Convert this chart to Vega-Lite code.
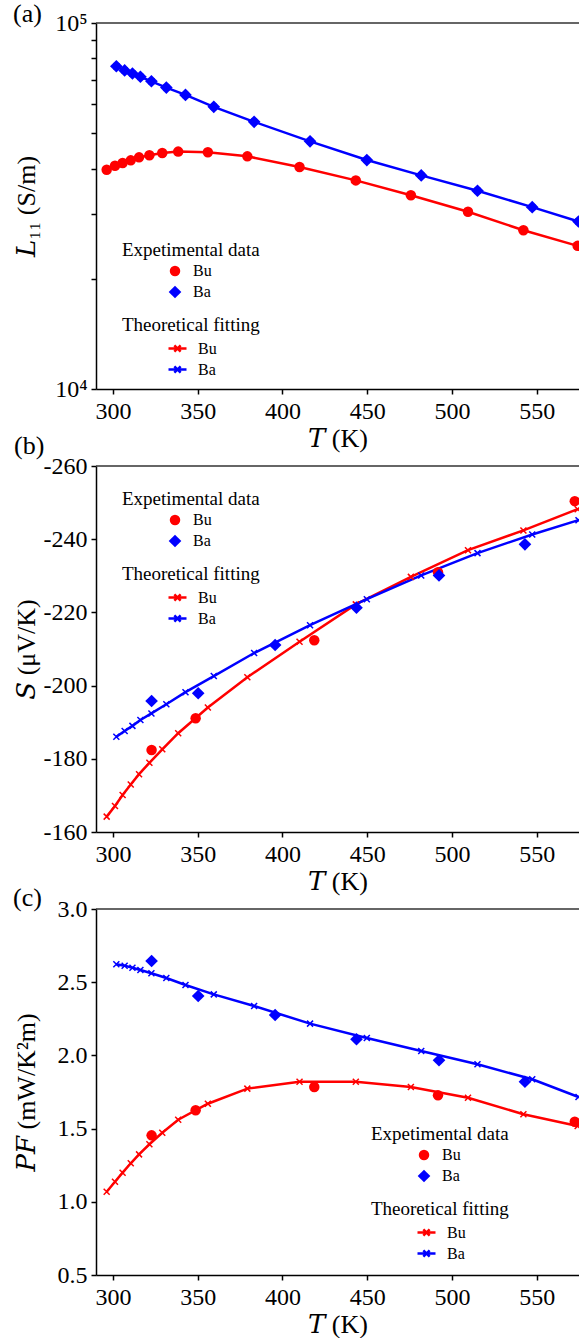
{
  "$schema": "https://vega.github.io/schema/vega-lite/v6.json",
  "background": "white",
  "padding": {"left": 13, "top": 1, "right": 0, "bottom": 0},
  "config": {
    "font": "Liberation Serif",
    "view": {"stroke": null},
    "axis": {
      "labelFont": "Liberation Serif", "titleFont": "'Liberation Serif', 'DejaVu Serif', serif",
      "labelFontSize": 24, "titleFontSize": 26, "titleFontWeight": "normal",
      "labelColor": "#000", "titleColor": "#000", "domainColor": "#000", "tickColor": "#000",
      "domainWidth": 1.5, "tickWidth": 1.5, "tickSize": 5, "grid": false,
      "labelFlush": false, "labelOverlap": false
    },
    "axisX": {"labelPadding": 5, "titleBaseline": "alphabetic", "titleY": 57.5},
    "axisY": {"labelPadding": 4, "titleAngle": 270, "titleBaseline": "bottom", "titleX": -57},
    "legend": {
      "orient": "none", "direction": "vertical", "padding": 0,
      "titleFont": "Liberation Serif", "labelFont": "Liberation Serif",
      "titleFontSize": 19, "labelFontSize": 16, "titleFontWeight": "normal",
      "titleColor": "#000", "labelColor": "#000",
      "symbolOffset": 45, "labelOffset": 10, "rowPadding": 2, "titlePadding": 3
    },
    "title": {"font": "Liberation Serif", "fontSize": 26, "fontWeight": "normal", "anchor": "start", "frame": "group", "baseline": "alphabetic", "color": "#000"}
  },
  "datasets": {
    "a_exp": [
      {"T": 296.3, "v": 39740, "s": "Bu"}, {"T": 301.2, "v": 40750, "s": "Bu"}, {"T": 305.7, "v": 41430, "s": "Bu"}, {"T": 310.5, "v": 42140, "s": "Bu"},
      {"T": 315.4, "v": 42950, "s": "Bu"}, {"T": 321.5, "v": 43500, "s": "Bu"}, {"T": 329.1, "v": 44140, "s": "Bu"}, {"T": 338.5, "v": 44530, "s": "Bu"},
      {"T": 356.0, "v": 44330, "s": "Bu"}, {"T": 379.3, "v": 43220, "s": "Bu"}, {"T": 410.1, "v": 40400, "s": "Bu"}, {"T": 443.3, "v": 37150, "s": "Bu"},
      {"T": 475.8, "v": 33850, "s": "Bu"}, {"T": 509.5, "v": 30490, "s": "Bu"}, {"T": 542.2, "v": 27150, "s": "Bu"}, {"T": 574.2, "v": 24610, "s": "Bu"},
      {"T": 302.0, "v": 76200, "s": "Ba"}, {"T": 306.9, "v": 74200, "s": "Ba"}, {"T": 311.5, "v": 72800, "s": "Ba"}, {"T": 316.2, "v": 71300, "s": "Ba"},
      {"T": 322.7, "v": 69300, "s": "Ba"}, {"T": 331.5, "v": 66600, "s": "Ba"}, {"T": 342.8, "v": 63600, "s": "Ba"}, {"T": 359.5, "v": 59000, "s": "Ba"},
      {"T": 383.3, "v": 53700, "s": "Ba"}, {"T": 416.3, "v": 47500, "s": "Ba"}, {"T": 449.8, "v": 42220, "s": "Ba"}, {"T": 481.9, "v": 38340, "s": "Ba"},
      {"T": 515.1, "v": 34800, "s": "Ba"}, {"T": 547.4, "v": 31390, "s": "Ba"}, {"T": 574.7, "v": 28680, "s": "Ba"}
    ],
    "a_fit": [
      {"T": 296.3, "v": 39740, "s": "Bu fit"}, {"T": 301.2, "v": 40750, "s": "Bu fit"}, {"T": 305.7, "v": 41430, "s": "Bu fit"}, {"T": 310.5, "v": 42140, "s": "Bu fit"},
      {"T": 315.4, "v": 42950, "s": "Bu fit"}, {"T": 321.5, "v": 43500, "s": "Bu fit"}, {"T": 329.1, "v": 44140, "s": "Bu fit"}, {"T": 338.5, "v": 44530, "s": "Bu fit"},
      {"T": 356.0, "v": 44330, "s": "Bu fit"}, {"T": 379.3, "v": 43220, "s": "Bu fit"}, {"T": 410.1, "v": 40400, "s": "Bu fit"}, {"T": 443.3, "v": 37150, "s": "Bu fit"},
      {"T": 475.8, "v": 33850, "s": "Bu fit"}, {"T": 509.5, "v": 30490, "s": "Bu fit"}, {"T": 542.2, "v": 27150, "s": "Bu fit"}, {"T": 574.2, "v": 24610, "s": "Bu fit"},
      {"T": 302.0, "v": 76200, "s": "Ba fit"}, {"T": 306.9, "v": 74200, "s": "Ba fit"}, {"T": 311.5, "v": 72800, "s": "Ba fit"}, {"T": 316.2, "v": 71300, "s": "Ba fit"},
      {"T": 322.7, "v": 69300, "s": "Ba fit"}, {"T": 331.5, "v": 66600, "s": "Ba fit"}, {"T": 342.8, "v": 63600, "s": "Ba fit"}, {"T": 359.5, "v": 59000, "s": "Ba fit"},
      {"T": 383.3, "v": 53700, "s": "Ba fit"}, {"T": 416.3, "v": 47500, "s": "Ba fit"}, {"T": 449.8, "v": 42220, "s": "Ba fit"}, {"T": 481.9, "v": 38340, "s": "Ba fit"},
      {"T": 515.1, "v": 34800, "s": "Ba fit"}, {"T": 547.4, "v": 31390, "s": "Ba fit"}, {"T": 574.7, "v": 28680, "s": "Ba fit"}
    ],
    "b_exp": [
      {"T": 322.8, "v": -182.4, "s": "Bu"}, {"T": 348.8, "v": -191.1, "s": "Bu"}, {"T": 418.8, "v": -212.4, "s": "Bu"}, {"T": 491.8, "v": -231.0, "s": "Bu"}, {"T": 572.5, "v": -250.4, "s": "Bu"},
      {"T": 322.8, "v": -195.8, "s": "Ba"}, {"T": 350.3, "v": -197.9, "s": "Ba"}, {"T": 395.7, "v": -211.1, "s": "Ba"}, {"T": 443.7, "v": -221.3, "s": "Ba"}, {"T": 492.4, "v": -230.1, "s": "Ba"}, {"T": 543.1, "v": -238.6, "s": "Ba"}
    ],
    "b_fit": [
      {"T": 296.3, "v": -164.2, "s": "Bu fit"}, {"T": 301.2, "v": -167.1, "s": "Bu fit"}, {"T": 305.7, "v": -170.1, "s": "Bu fit"}, {"T": 310.5, "v": -173.0, "s": "Bu fit"},
      {"T": 315.4, "v": -175.8, "s": "Bu fit"}, {"T": 321.5, "v": -178.9, "s": "Bu fit"}, {"T": 329.1, "v": -182.6, "s": "Bu fit"}, {"T": 338.5, "v": -187.0, "s": "Bu fit"},
      {"T": 356.0, "v": -194.0, "s": "Bu fit"}, {"T": 379.3, "v": -202.3, "s": "Bu fit"}, {"T": 410.1, "v": -212.0, "s": "Bu fit"}, {"T": 443.3, "v": -222.2, "s": "Bu fit"},
      {"T": 475.8, "v": -229.7, "s": "Bu fit"}, {"T": 509.5, "v": -237.0, "s": "Bu fit"}, {"T": 542.2, "v": -242.4, "s": "Bu fit"}, {"T": 574.2, "v": -248.2, "s": "Bu fit"},
      {"T": 302.0, "v": -186.0, "s": "Ba fit"}, {"T": 306.9, "v": -187.6, "s": "Ba fit"}, {"T": 311.5, "v": -189.0, "s": "Ba fit"}, {"T": 316.2, "v": -190.6, "s": "Ba fit"},
      {"T": 322.7, "v": -192.4, "s": "Ba fit"}, {"T": 331.5, "v": -194.9, "s": "Ba fit"}, {"T": 342.8, "v": -198.2, "s": "Ba fit"}, {"T": 359.5, "v": -202.6, "s": "Ba fit"},
      {"T": 383.3, "v": -208.9, "s": "Ba fit"}, {"T": 416.3, "v": -216.5, "s": "Ba fit"}, {"T": 449.8, "v": -223.6, "s": "Ba fit"}, {"T": 481.9, "v": -230.1, "s": "Ba fit"},
      {"T": 515.1, "v": -236.2, "s": "Ba fit"}, {"T": 547.4, "v": -241.3, "s": "Ba fit"}, {"T": 574.7, "v": -245.2, "s": "Ba fit"}
    ],
    "c_exp": [
      {"T": 322.8, "v": 1.454, "s": "Bu"}, {"T": 348.8, "v": 1.625, "s": "Bu"}, {"T": 418.8, "v": 1.784, "s": "Bu"}, {"T": 491.8, "v": 1.727, "s": "Bu"}, {"T": 572.5, "v": 1.547, "s": "Bu"},
      {"T": 322.8, "v": 2.645, "s": "Ba"}, {"T": 350.3, "v": 2.406, "s": "Ba"}, {"T": 395.7, "v": 2.276, "s": "Ba"}, {"T": 443.7, "v": 2.110, "s": "Ba"}, {"T": 492.4, "v": 1.967, "s": "Ba"}, {"T": 543.1, "v": 1.820, "s": "Ba"}
    ],
    "c_fit": [
      {"T": 296.3, "v": 1.069, "s": "Bu fit"}, {"T": 301.2, "v": 1.137, "s": "Bu fit"}, {"T": 305.7, "v": 1.199, "s": "Bu fit"}, {"T": 310.5, "v": 1.263, "s": "Bu fit"},
      {"T": 315.4, "v": 1.324, "s": "Bu fit"}, {"T": 321.5, "v": 1.393, "s": "Bu fit"}, {"T": 329.1, "v": 1.472, "s": "Bu fit"}, {"T": 338.5, "v": 1.561, "s": "Bu fit"},
      {"T": 356.0, "v": 1.670, "s": "Bu fit"}, {"T": 379.3, "v": 1.773, "s": "Bu fit"}, {"T": 410.1, "v": 1.820, "s": "Bu fit"}, {"T": 443.3, "v": 1.820, "s": "Bu fit"},
      {"T": 475.8, "v": 1.784, "s": "Bu fit"}, {"T": 509.5, "v": 1.711, "s": "Bu fit"}, {"T": 542.2, "v": 1.598, "s": "Bu fit"}, {"T": 574.2, "v": 1.518, "s": "Bu fit"},
      {"T": 302.0, "v": 2.622, "s": "Ba fit"}, {"T": 306.9, "v": 2.613, "s": "Ba fit"}, {"T": 311.5, "v": 2.599, "s": "Ba fit"}, {"T": 316.2, "v": 2.583, "s": "Ba fit"},
      {"T": 322.7, "v": 2.561, "s": "Ba fit"}, {"T": 331.5, "v": 2.529, "s": "Ba fit"}, {"T": 342.8, "v": 2.481, "s": "Ba fit"}, {"T": 359.5, "v": 2.417, "s": "Ba fit"},
      {"T": 383.3, "v": 2.337, "s": "Ba fit"}, {"T": 416.3, "v": 2.217, "s": "Ba fit"}, {"T": 449.8, "v": 2.119, "s": "Ba fit"}, {"T": 481.9, "v": 2.030, "s": "Ba fit"},
      {"T": 515.1, "v": 1.939, "s": "Ba fit"}, {"T": 547.4, "v": 1.837, "s": "Ba fit"}, {"T": 574.7, "v": 1.716, "s": "Ba fit"}
    ]
  },
  "spacing": 77,
  "bounds": "flush",
  "resolve": {
    "scale": {"fill": "independent", "shape": "independent", "size": "independent", "stroke": "independent", "y": "independent"},
    "legend": {"fill": "independent", "shape": "independent", "size": "independent", "stroke": "independent"}
  },
  "vconcat": [
    {
      "width": 483, "height": 366,
      "title": {"text": "(a)", "dx": -83, "offset": -16},
      "layer": [
        {
          "data": {"name": "a_fit"},
          "mark": {"type": "line", "strokeWidth": 2.5, "clip": true},
          "encoding": {
            "x": {"field": "T", "type": "quantitative", "scale": {"domain": [290, 575], "nice": false, "zero": false}, "axis": {"title": "𝑇 (K)", "values": [300, 350, 400, 450, 500, 550]}},
            "y": {"field": "v", "type": "quantitative", "scale": {"type": "log", "domain": [10000, 100000], "nice": false}, "axis": {"title": "𝐿₁₁ (S/m)", "values": [10000, 20000, 30000, 40000, 50000, 60000, 70000, 80000, 90000, 100000], "labelExpr": "datum.value == 100000 ? '10⁵' : (datum.value == 10000 ? '10⁴' : '')"}},
            "stroke": {"field": "s", "type": "nominal", "scale": {"domain": ["Bu fit", "Ba fit"], "range": ["#ff0000", "#0000ff"]}, "legend": {"title": "Theoretical fitting", "legendX": 26, "legendY": 293, "labelExpr": "split(datum.label, ' ')[0]", "symbolType": "M-1,0L1,0M-0.35,-0.35L0.35,0.35M-0.35,0.35L0.35,-0.35", "symbolSize": 324, "symbolStrokeWidth": 2.5}}
          }
        },
        {
          "data": {"name": "a_fit"},
          "mark": {"type": "point", "shape": "M-1,-1L1,1M-1,1L1,-1", "filled": false, "size": 36, "strokeWidth": 1.5, "opacity": 1, "clip": true},
          "encoding": {
            "x": {"field": "T", "type": "quantitative", "scale": {"domain": [290, 575], "nice": false, "zero": false}},
            "y": {"field": "v", "type": "quantitative", "scale": {"type": "log", "domain": [10000, 100000], "nice": false}},
            "stroke": {"field": "s", "type": "nominal", "scale": {"domain": ["Bu fit", "Ba fit"], "range": ["#ff0000", "#0000ff"]}, "legend": {"title": "Theoretical fitting", "legendX": 26, "legendY": 293, "labelExpr": "split(datum.label, ' ')[0]", "symbolType": "M-1,0L1,0M-0.35,-0.35L0.35,0.35M-0.35,0.35L0.35,-0.35", "symbolSize": 324, "symbolStrokeWidth": 2.5}}
          }
        },
        {
          "data": {"name": "a_exp"},
          "mark": {"type": "point", "filled": true, "opacity": 1, "clip": true},
          "encoding": {
            "x": {"field": "T", "type": "quantitative", "scale": {"domain": [290, 575], "nice": false, "zero": false}},
            "y": {"field": "v", "type": "quantitative", "scale": {"type": "log", "domain": [10000, 100000], "nice": false}},
            "fill": {"field": "s", "type": "nominal", "scale": {"domain": ["Bu", "Ba"], "range": ["#ff0000", "#0000ff"]}, "legend": {"title": "Expetimental data", "legendX": 26, "legendY": 218}},
            "shape": {"field": "s", "type": "nominal", "scale": {"domain": ["Bu", "Ba"], "range": ["circle", "diamond"]}, "legend": {"title": "Expetimental data", "legendX": 26, "legendY": 218}},
            "size": {"field": "s", "type": "nominal", "scale": {"domain": ["Bu", "Ba"], "range": [110, 160]}, "legend": {"title": "Expetimental data", "legendX": 26, "legendY": 218}}
          }
        },
        {
          "data": {"values": [{}]},
          "mark": {"type": "rule", "color": "#333", "strokeWidth": 1.5},
          "encoding": {"y": {"datum": 100000, "type": "quantitative"}}
        }
      ]
    },
    {
      "width": 483, "height": 366,
      "title": {"text": "(b)", "dx": -82, "offset": -5},
      "layer": [
        {
          "data": {"name": "b_fit"},
          "mark": {"type": "line", "strokeWidth": 2.5, "clip": true},
          "encoding": {
            "x": {"field": "T", "type": "quantitative", "scale": {"domain": [290, 575], "nice": false, "zero": false}, "axis": {"title": "𝑇 (K)", "values": [300, 350, 400, 450, 500, 550]}},
            "y": {"field": "v", "type": "quantitative", "scale": {"domain": [-260, -160], "nice": false, "zero": false, "reverse": true}, "axis": {"title": "𝑆 (μV/K)", "values": [-260, -240, -220, -200, -180, -160], "labelExpr": "replace(datum.label, '−', '-')"}},
            "stroke": {"field": "s", "type": "nominal", "scale": {"domain": ["Bu fit", "Ba fit"], "range": ["#ff0000", "#0000ff"]}, "legend": {"title": "Theoretical fitting", "legendX": 26, "legendY": 99, "labelExpr": "split(datum.label, ' ')[0]", "symbolType": "M-1,0L1,0M-0.35,-0.35L0.35,0.35M-0.35,0.35L0.35,-0.35", "symbolSize": 324, "symbolStrokeWidth": 2.5}}
          }
        },
        {
          "data": {"name": "b_fit"},
          "mark": {"type": "point", "shape": "M-1,-1L1,1M-1,1L1,-1", "filled": false, "size": 36, "strokeWidth": 1.5, "opacity": 1, "clip": true},
          "encoding": {
            "x": {"field": "T", "type": "quantitative", "scale": {"domain": [290, 575], "nice": false, "zero": false}},
            "y": {"field": "v", "type": "quantitative", "scale": {"domain": [-260, -160], "nice": false, "zero": false, "reverse": true}},
            "stroke": {"field": "s", "type": "nominal", "scale": {"domain": ["Bu fit", "Ba fit"], "range": ["#ff0000", "#0000ff"]}, "legend": {"title": "Theoretical fitting", "legendX": 26, "legendY": 99, "labelExpr": "split(datum.label, ' ')[0]", "symbolType": "M-1,0L1,0M-0.35,-0.35L0.35,0.35M-0.35,0.35L0.35,-0.35", "symbolSize": 324, "symbolStrokeWidth": 2.5}}
          }
        },
        {
          "data": {"name": "b_exp"},
          "mark": {"type": "point", "filled": true, "opacity": 1, "clip": true},
          "encoding": {
            "x": {"field": "T", "type": "quantitative", "scale": {"domain": [290, 575], "nice": false, "zero": false}},
            "y": {"field": "v", "type": "quantitative", "scale": {"domain": [-260, -160], "nice": false, "zero": false, "reverse": true}},
            "fill": {"field": "s", "type": "nominal", "scale": {"domain": ["Bu", "Ba"], "range": ["#ff0000", "#0000ff"]}, "legend": {"title": "Expetimental data", "legendX": 26, "legendY": 24}},
            "shape": {"field": "s", "type": "nominal", "scale": {"domain": ["Bu", "Ba"], "range": ["circle", "diamond"]}, "legend": {"title": "Expetimental data", "legendX": 26, "legendY": 24}},
            "size": {"field": "s", "type": "nominal", "scale": {"domain": ["Bu", "Ba"], "range": [110, 160]}, "legend": {"title": "Expetimental data", "legendX": 26, "legendY": 24}}
          }
        },
        {
          "data": {"values": [{}]},
          "mark": {"type": "rule", "color": "#333", "strokeWidth": 1.5},
          "encoding": {"y": {"datum": -260, "type": "quantitative"}}
        }
      ]
    },
    {
      "width": 483, "height": 366,
      "title": {"text": "(c)", "dx": -83, "offset": -14},
      "layer": [
        {
          "data": {"name": "c_fit"},
          "mark": {"type": "line", "strokeWidth": 2.5, "clip": true},
          "encoding": {
            "x": {"field": "T", "type": "quantitative", "scale": {"domain": [290, 575], "nice": false, "zero": false}, "axis": {"title": "𝑇 (K)", "values": [300, 350, 400, 450, 500, 550]}},
            "y": {"field": "v", "type": "quantitative", "scale": {"domain": [0.5, 3.0], "nice": false, "zero": false}, "axis": {"title": "𝑃𝐹 (mW/K²m)", "values": [0.5, 1.0, 1.5, 2.0, 2.5, 3.0], "format": ".1f"}},
            "stroke": {"field": "s", "type": "nominal", "scale": {"domain": ["Bu fit", "Ba fit"], "range": ["#ff0000", "#0000ff"]}, "legend": {"title": "Theoretical fitting", "legendX": 275, "legendY": 291, "labelExpr": "split(datum.label, ' ')[0]", "symbolType": "M-1,0L1,0M-0.35,-0.35L0.35,0.35M-0.35,0.35L0.35,-0.35", "symbolSize": 324, "symbolStrokeWidth": 2.5}}
          }
        },
        {
          "data": {"name": "c_fit"},
          "mark": {"type": "point", "shape": "M-1,-1L1,1M-1,1L1,-1", "filled": false, "size": 36, "strokeWidth": 1.5, "opacity": 1, "clip": true},
          "encoding": {
            "x": {"field": "T", "type": "quantitative", "scale": {"domain": [290, 575], "nice": false, "zero": false}},
            "y": {"field": "v", "type": "quantitative", "scale": {"domain": [0.5, 3.0], "nice": false, "zero": false}},
            "stroke": {"field": "s", "type": "nominal", "scale": {"domain": ["Bu fit", "Ba fit"], "range": ["#ff0000", "#0000ff"]}, "legend": {"title": "Theoretical fitting", "legendX": 275, "legendY": 291, "labelExpr": "split(datum.label, ' ')[0]", "symbolType": "M-1,0L1,0M-0.35,-0.35L0.35,0.35M-0.35,0.35L0.35,-0.35", "symbolSize": 324, "symbolStrokeWidth": 2.5}}
          }
        },
        {
          "data": {"name": "c_exp"},
          "mark": {"type": "point", "filled": true, "opacity": 1, "clip": true},
          "encoding": {
            "x": {"field": "T", "type": "quantitative", "scale": {"domain": [290, 575], "nice": false, "zero": false}},
            "y": {"field": "v", "type": "quantitative", "scale": {"domain": [0.5, 3.0], "nice": false, "zero": false}},
            "fill": {"field": "s", "type": "nominal", "scale": {"domain": ["Bu", "Ba"], "range": ["#ff0000", "#0000ff"]}, "legend": {"title": "Expetimental data", "legendX": 275, "legendY": 216}},
            "shape": {"field": "s", "type": "nominal", "scale": {"domain": ["Bu", "Ba"], "range": ["circle", "diamond"]}, "legend": {"title": "Expetimental data", "legendX": 275, "legendY": 216}},
            "size": {"field": "s", "type": "nominal", "scale": {"domain": ["Bu", "Ba"], "range": [110, 160]}, "legend": {"title": "Expetimental data", "legendX": 275, "legendY": 216}}
          }
        },
        {
          "data": {"values": [{}]},
          "mark": {"type": "rule", "color": "#333", "strokeWidth": 1.5},
          "encoding": {"y": {"datum": 3.0, "type": "quantitative"}}
        }
      ]
    }
  ]
}
